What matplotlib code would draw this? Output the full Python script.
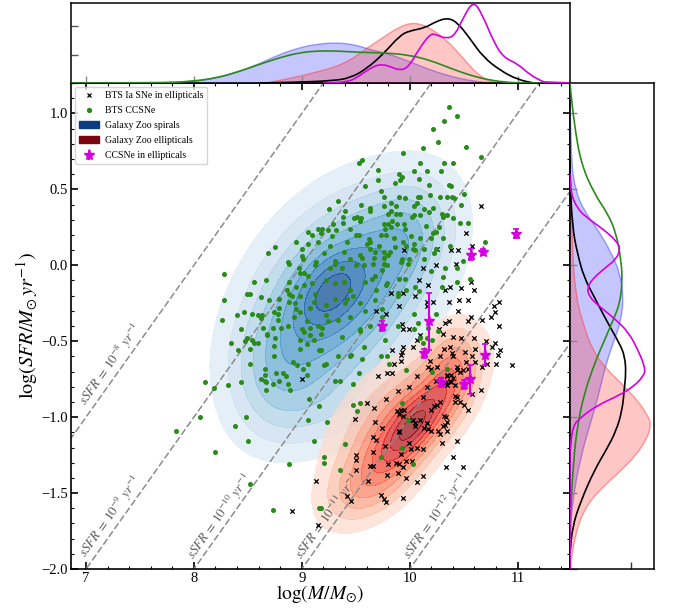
import numpy as np
import matplotlib
matplotlib.use('Agg')
import matplotlib.pyplot as plt
from matplotlib.path import Path
from matplotlib.patches import PathPatch, Patch
from matplotlib.lines import Line2D
from matplotlib.ticker import MultipleLocator

plt.rcParams['font.family'] = ['Liberation Serif', 'DejaVu Serif']
plt.rcParams['mathtext.fontset'] = 'stix'

# BTS CCSNe, (log mass, log SFR)
ccsn_points = np.array([
    (10.36, 1.04), (10.44, 0.98), (10.32, 0.95), (10.22, 0.90), (10.26, 0.81), (10.52, 0.78), (10.12, 0.77),
    (9.94, 0.74), (10.66, 0.71), (9.56, 0.69), (9.53, 0.67), (10.10, 0.67), (10.32, 0.67), (10.40, 0.67),
    (9.71, 0.63), (10.04, 0.62), (10.16, 0.62), (10.29, 0.62), (9.90, 0.60), (9.93, 0.58), (9.91, 0.56),
    (9.71, 0.56), (10.09, 0.57), (9.86, 0.54), (10.18, 0.53), (10.36, 0.53), (10.38, 0.52), (9.59, 0.52),
    (9.73, 0.49), (10.50, 0.47), (10.39, 0.45), (10.41, 0.44), (9.76, 0.45), (9.90, 0.45), (9.96, 0.44),
    (10.08, 0.45), (10.10, 0.45), (10.19, 0.46), (10.28, 0.45), (10.35, 0.45), (9.34, 0.42), (9.25, 0.37),
    (9.55, 0.40), (9.76, 0.39), (9.83, 0.41), (10.07, 0.41), (10.04, 0.39), (10.48, 0.40), (9.40, 0.36),
    (9.63, 0.38), (9.63, 0.36), (9.87, 0.39), (9.83, 0.36), (10.13, 0.37), (10.22, 0.38), (10.18, 0.35),
    (9.38, 0.32), (9.80, 0.34), (9.87, 0.34), (9.91, 0.34), (10.30, 0.34), (10.35, 0.33), (10.31, 0.32),
    (10.40, 0.31), (10.04, 0.33), (10.10, 0.33), (10.02, 0.32), (9.48, 0.31), (9.51, 0.32), (9.55, 0.31),
    (9.54, 0.29), (9.38, 0.28), (9.29, 0.27), (9.84, 0.29), (9.76, 0.27), (9.80, 0.27), (9.88, 0.27),
    (9.95, 0.27), (9.96, 0.24), (10.15, 0.26), (10.27, 0.25), (10.47, 0.28), (10.54, 0.28), (9.45, 0.24),
    (9.19, 0.24), (9.24, 0.23), (9.18, 0.21), (9.32, 0.23), (9.28, 0.19), (9.77, 0.24), (9.83, 0.25),
    (10.24, 0.22), (10.22, 0.21), (9.50, 0.20), (9.53, 0.20), (9.73, 0.20), (9.78, 0.20), (9.85, 0.18),
    (10.01, 0.19), (10.10, 0.18), (10.20, 0.18), (10.31, 0.18), (10.70, 0.15), (10.37, 0.13), (9.62, 0.17),
    (9.63, 0.15), (9.60, 0.14), (9.42, 0.15), (9.26, 0.13), (9.72, 0.13), (9.94, 0.15), (9.86, 0.12),
    (9.97, 0.13), (10.04, 0.14), (10.03, 0.11), (9.63, 0.11), (10.13, 0.11), (10.05, 0.10), (10.24, 0.11),
    (10.23, 0.08), (9.21, 0.08), (9.39, 0.09), (9.68, 0.09), (9.76, 0.09), (9.82, 0.09), (9.54, 0.07),
    (9.56, 0.05), (9.67, 0.05), (9.76, 0.05), (9.80, 0.07), (9.99, 0.04), (10.13, 0.04), (9.93, 0.04),
    (9.92, 0.02), (9.31, 0.03), (9.31, 0.01), (9.45, 0.04), (10.49, 0.03), (9.50, 0.00), (9.66, 0.01),
    (9.76, 0.01), (9.98, 0.01), (9.26, -0.02), (9.37, -0.02), (9.58, 0.00), (9.79, 0.00), (10.33, -0.02),
    (10.44, -0.02), (9.74, -0.03), (10.20, -0.04), (9.68, -0.07), (9.65, -0.09), (9.90, -0.09), (9.96, -0.09),
    (10.44, -0.11), (10.56, -0.09), (10.31, -0.08), (9.22, -0.10), (9.31, -0.12), (9.39, -0.11), (9.79, -0.12),
    (9.59, -0.11), (9.78, -0.13), (9.69, -0.16), (10.05, -0.14), (10.30, -0.14), (10.09, -0.17), (9.97, -0.16),
    (9.89, -0.18), (9.45, -0.16), (9.47, -0.20), (9.89, -0.20), (9.68, -0.23), (9.54, -0.25), (9.42, -0.22),
    (9.40, -0.25), (9.31, -0.22), (9.22, -0.26), (9.59, -0.30), (9.74, -0.29), (10.04, -0.32), (10.24, -0.32),
    (9.45, -0.34), (9.34, -0.36), (9.22, -0.33), (9.24, -0.37), (9.19, -0.41), (9.54, -0.42), (9.63, -0.40),
    (9.74, -0.34), (9.89, -0.40), (10.08, -0.38),
    (9.06, 0.22), (9.09, 0.20), (9.15, 0.24), (8.95, 0.15), (9.06, 0.14), (9.00, 0.11), (9.15, 0.15),
    (8.75, 0.12), (8.69, 0.08), (9.00, 0.06), (9.01, 0.04), (9.13, 0.02), (8.87, 0.02), (8.88, 0.01),
    (9.12, 0.00), (8.97, -0.02), (8.98, -0.05), (9.02, -0.05), (9.06, -0.07), (8.28, -0.06), (8.56, -0.11),
    (8.67, -0.10), (8.88, -0.11), (9.09, -0.12), (9.02, -0.13), (8.95, -0.14), (8.86, -0.16), (8.88, -0.19),
    (8.49, -0.19), (8.52, -0.19), (8.62, -0.21), (8.79, -0.22), (8.91, -0.20), (8.98, -0.20), (9.11, -0.24),
    (8.28, -0.23), (8.70, -0.23), (8.88, -0.24), (9.08, -0.28), (8.94, -0.25), (8.79, -0.28), (8.74, -0.31),
    (8.46, -0.31), (8.54, -0.32), (8.40, -0.33), (8.59, -0.33), (8.63, -0.33), (8.62, -0.35), (8.95, -0.29),
    (8.98, -0.31), (8.78, -0.32), (8.93, -0.34), (9.05, -0.37), (8.26, -0.36), (8.78, -0.36), (8.44, -0.42),
    (8.64, -0.41), (8.73, -0.41), (8.81, -0.41), (8.87, -0.40), (9.00, -0.42), (9.08, -0.41), (9.15, -0.40),
    (9.12, -0.19),
    (8.49, -0.48), (8.47, -0.50), (8.34, -0.51), (8.54, -0.49), (8.56, -0.51), (8.59, -0.51), (8.68, -0.45),
    (8.68, -0.46), (8.75, -0.48), (8.74, -0.53), (8.98, -0.49), (9.02, -0.44), (9.08, -0.46), (9.11, -0.49),
    (9.05, -0.52), (8.98, -0.55), (9.16, -0.56), (8.41, -0.56), (8.52, -0.55), (8.74, -0.60), (8.52, -0.65),
    (8.92, -0.64), (8.96, -0.66), (9.06, -0.65), (9.01, -0.68), (9.05, -0.72), (8.66, -0.68), (8.76, -0.71),
    (8.83, -0.71), (8.85, -0.73), (8.66, -0.72), (8.62, -0.75), (8.66, -0.76), (8.67, -0.77), (8.73, -0.78),
    (8.79, -0.76), (8.87, -0.78), (8.89, -0.82), (8.67, -0.82), (8.10, -0.77), (8.19, -0.81), (8.32, -0.79),
    (8.44, -0.77), (9.07, -0.88), (9.16, -0.93), (8.06, -1.00), (8.48, -1.00), (8.38, -1.06), (9.06, -1.02),
    (7.83, -1.09), (8.50, -1.16), (9.11, -1.16), (8.20, -1.23), (8.88, -1.31), (8.52, -1.44), (8.73, -1.61),
    (9.16, -1.60),
    (9.18, -0.45), (9.37, -0.47), (9.54, -0.43), (10.04, -0.42), (10.26, -0.43), (10.17, -0.41), (10.16, -0.48),
    (10.10, -0.48), (10.12, -0.51), (10.21, -0.49), (9.18, -0.56), (9.58, -0.54), (9.77, -0.49), (9.34, -0.60),
    (9.45, -0.60), (9.46, -0.59), (9.56, -0.62), (9.73, -0.60), (9.79, -0.60), (9.81, -0.65), (9.22, -0.65),
    (9.21, -0.66), (9.97, -0.69), (9.53, -0.71), (10.35, -0.68), (10.21, -0.70), (9.31, -0.76), (9.35, -0.76),
    (9.47, -0.78), (9.47, -0.92), (9.54, -0.91), (9.51, -0.96), (9.93, -0.91), (9.23, -1.03), (9.98, -1.02),
    (9.40, -1.18), (9.93, -1.20), (9.73, -1.26), (9.21, -1.26), (9.21, -1.30), (10.03, -1.31), (9.35, -1.35),
    (9.18, -1.60),
])

# BTS Ia SNe in ellipticals, (log mass, log SFR)
ia_points = np.array([
    (10.66, 0.39), (10.52, 0.21), (10.58, 0.13), (10.25, 0.11), (10.38, 0.10), (10.45, 0.10), (9.95, 0.10),
    (10.24, 0.00), (10.43, 0.01), (10.12, -0.02), (10.09, -0.10), (10.17, -0.13), (10.57, -0.11), (10.37, -0.14),
    (10.33, -0.16), (10.48, -0.15), (10.60, -0.16), (9.83, -0.18), (9.94, -0.18), (10.05, -0.20), (10.16, -0.24),
    (10.22, -0.24), (10.46, -0.23), (10.54, -0.23), (10.36, -0.24), (9.90, -0.27), (10.16, -0.27), (9.69, -0.30),
    (9.78, -0.32), (10.45, -0.30), (10.83, -0.24), (10.78, -0.27), (10.79, -0.31), (10.75, -0.34), (10.57, -0.34),
    (10.67, -0.36), (10.54, -0.37), (10.36, -0.37), (10.33, -0.38), (9.93, -0.39), (10.83, -0.40), (10.27, -0.42),
    (9.99, -0.42), (9.94, -0.42), (9.00, -0.75), (9.13, -1.42), (8.91, -1.62), (9.15, -1.71),
    (10.10, -0.46), (10.07, -0.49), (10.31, -0.45), (10.40, -0.47), (10.48, -0.48), (10.60, -0.48), (10.71, -0.50),
    (10.79, -0.51), (9.84, -0.56), (9.94, -0.54), (10.03, -0.54), (9.93, -0.57), (9.92, -0.59), (10.32, -0.55),
    (10.37, -0.54), (10.51, -0.57), (10.61, -0.55), (10.76, -0.54), (10.84, -0.56), (10.82, -0.59), (10.39, -0.58),
    (10.40, -0.60), (10.28, -0.60), (10.58, -0.60), (9.92, -0.63), (9.85, -0.65), (10.19, -0.63), (10.52, -0.64),
    (10.61, -0.64), (10.72, -0.65), (10.80, -0.65), (10.95, -0.66), (10.17, -0.67), (10.20, -0.68), (10.25, -0.67),
    (10.44, -0.67), (10.67, -0.67), (10.49, -0.69), (10.44, -0.69), (10.47, -0.70), (10.54, -0.68), (9.79, -0.71),
    (9.84, -0.71), (9.71, -0.73), (10.07, -0.73), (10.35, -0.72), (10.38, -0.72), (10.35, -0.73), (10.29, -0.75),
    (10.40, -0.74), (10.37, -0.76), (10.24, -0.76), (10.34, -0.77), (10.38, -0.77), (10.42, -0.79), (10.35, -0.79),
    (9.99, -0.80), (10.16, -0.80), (9.89, -0.83), (10.66, -0.82), (10.58, -0.85), (10.42, -0.86), (10.44, -0.87),
    (10.12, -0.87), (9.78, -0.88), (10.28, -0.90), (10.25, -0.92), (10.42, -0.90), (10.47, -0.90), (10.50, -0.92),
    (9.60, -0.91), (9.67, -0.94), (10.23, -0.93), (10.54, -0.95), (9.88, -0.96), (9.92, -0.95), (9.95, -0.95),
    (10.20, -0.95), (9.90, -0.98), (9.94, -0.99), (10.32, -0.99), (10.34, -1.00), (9.49, -1.01), (9.68, -1.03),
    (9.99, -1.02), (10.10, -1.02), (10.03, -1.02), (10.16, -1.04), (10.35, -1.03), (10.05, -1.04), (10.05, -1.06),
    (10.33, -1.05), (9.74, -1.07), (10.13, -1.07), (10.17, -1.08), (10.31, -1.06), (10.20, -1.09), (10.35, -1.09),
    (9.90, -1.09), (9.90, -1.10), (10.26, -1.09), (10.28, -1.11), (9.66, -1.13), (9.69, -1.15), (9.99, -1.17),
    (10.44, -1.16), (10.30, -1.17), (9.77, -1.19), (10.07, -1.20), (10.01, -1.21), (10.12, -1.21), (9.92, -1.24),
    (9.66, -1.23), (9.50, -1.25), (9.50, -1.28), (10.40, -1.26), (9.80, -1.31), (9.87, -1.30), (9.90, -1.31),
    (9.94, -1.33), (9.97, -1.29), (10.02, -1.29), (9.63, -1.32), (9.66, -1.32), (10.34, -1.33), (10.49, -1.33),
    (9.50, -1.35), (9.79, -1.38), (9.89, -1.37), (9.97, -1.40), (10.12, -1.39), (9.61, -1.42), (10.07, -1.43),
    (9.73, -1.51), (9.76, -1.54), (9.78, -1.56), (9.94, -1.53), (9.42, -1.52), (9.46, -1.55),
])

# CCSNe in ellipticals
cc_ell_mass = [10.985, 10.57, 10.68, 10.18, 9.74, 10.136, 10.29, 10.70, 10.56, 10.507]
cc_ell_sfr = [0.208, 0.07, 0.085, -0.37, -0.40, -0.58, -0.77, -0.588, -0.75, -0.785]
cc_ell_err = [0.03, 0.035, 0.02, 0.19, 0.03, 0.03, 0.03, 0.07, 0.095, 0.03]

# Galaxy Zoo density blobs: centre x, centre y, sigma x, sigma y, correlation, weight
spiral_blobs = [
    (9.26, -0.17, 0.22, 0.17, 0.45, 0.40),
    (9.35, -0.20, 0.50, 0.40, 0.38, 0.80),
    (9.98, 0.20, 0.27, 0.24, 0.25, 0.28),
    (8.78, -0.72, 0.28, 0.26, 0.10, 0.23),
    (9.30, -0.95, 0.45, 0.20, 0.30, 0.13),
]
elliptical_blobs = [
    (10.04, -1.05, 0.17, 0.14, 0.72, 0.40),
    (10.00, -1.08, 0.33, 0.27, 0.75, 0.60),
    (9.85, -1.00, 0.40, 0.28, 0.50, 0.22),
    (10.38, -0.68, 0.15, 0.18, 0.20, 0.30),
    (9.60, -1.47, 0.27, 0.16, 0.35, 0.17),
]
level_fractions = [0.05, 0.12, 0.20, 0.29, 0.39, 0.50, 0.62, 0.76, 0.90, 1.01]

ssfr_exps = [-8, -9, -10, -11, -12]
ssfr_label_x = [7.0, 7.0, 8.0, 9.0, 10.0]
ssfr_label_y = [-0.93, -1.93, -1.94, -1.94, -1.94]

# marginals over log mass (x, density)
top_spirals = [(6.85, 0), (7.7, 0), (7.99, 0.02), (8.21, 0.09), (8.40, 0.19), (8.61, 0.34), (8.80, 0.51), (9.01, 0.64),
               (9.17, 0.69), (9.32, 0.71), (9.48, 0.68), (9.63, 0.59), (9.79, 0.52), (9.97, 0.40), (10.16, 0.25),
               (10.37, 0.12), (10.59, 0.03), (10.78, 0), (11.5, 0)]
top_ellipticals = [(8.67, 0), (8.92, 0.09), (9.11, 0.18), (9.29, 0.27), (9.45, 0.40), (9.60, 0.61), (9.76, 0.81), (9.91, 1.0),
                   (10.05, 1.07), (10.19, 0.97), (10.34, 0.76), (10.50, 0.43), (10.62, 0.165), (10.74, 0.03), (10.84, 0)]
top_ccsn = [(6.85, 0), (7.69, 0), (7.99, 0.03), (8.21, 0.09), (8.40, 0.19), (8.61, 0.33), (8.80, 0.45), (8.98, 0.535),
            (9.14, 0.565), (9.32, 0.565), (9.54, 0.54), (9.79, 0.53), (10.0, 0.49), (10.19, 0.40), (10.37, 0.265),
            (10.56, 0.135), (10.74, 0.05), (10.93, 0.006), (11.08, 0), (11.5, 0)]
top_ia = [(8.6, 0), (8.92, 0.01), (9.29, 0.04), (9.45, 0.09), (9.60, 0.25), (9.76, 0.52), (9.91, 0.84), (10.0, 0.92),
          (10.14, 0.97), (10.25, 1.09), (10.36, 1.15), (10.45, 1.05), (10.56, 0.78), (10.68, 0.46), (10.84, 0.22),
          (11.0, 0.06), (11.15, 0), (11.5, 0)]
top_cc_ell = [(9.2, 0), (9.42, 0), (9.54, 0.135), (9.66, 0.29), (9.74, 0.33), (9.82, 0.29), (9.91, 0.22), (9.99, 0.28),
              (10.08, 0.58), (10.19, 0.87), (10.25, 0.85), (10.34, 0.78), (10.42, 0.84), (10.50, 1.165), (10.59, 1.45),
              (10.67, 1.22), (10.78, 0.72), (10.87, 0.45), (11.0, 0.34), (11.12, 0.135), (11.24, 0.02), (11.5, 0)]

# marginals over log SFR (log SFR, density)
right_spirals = [(1.2, 0), (0.71, 0.01), (0.49, 0.09), (0.36, 0.23), (0.24, 0.45), (0.08, 0.68), (-0.05, 0.82), (-0.21, 0.88),
                 (-0.36, 0.84), (-0.49, 0.73), (-0.65, 0.59), (-0.87, 0.46), (-1.06, 0.32), (-1.26, 0.18), (-1.48, 0.07),
                 (-1.7, 0.01), (-2.0, 0)]
right_ellipticals = [(0.6, 0), (0.49, 0.01), (0.12, 0.04), (-0.19, 0.09), (-0.38, 0.21), (-0.56, 0.37), (-0.68, 0.59), (-0.80, 0.90),
                     (-0.91, 1.15), (-1.0, 1.29), (-1.05, 1.33), (-1.13, 1.28), (-1.25, 1.09), (-1.37, 0.79), (-1.49, 0.46),
                     (-1.61, 0.23), (-1.77, 0.09), (-1.94, 0.02), (-2.0, 0)]
right_ccsn = [(1.2, 0), (1.15, 0.01), (0.93, 0.07), (0.67, 0.18), (0.47, 0.40), (0.34, 0.62), (0.21, 0.76), (0.03, 0.84),
              (-0.10, 0.86), (-0.25, 0.82), (-0.36, 0.71), (-0.49, 0.57), (-0.65, 0.40), (-0.85, 0.23), (-1.06, 0.12),
              (-1.3, 0.055), (-1.63, 0.01), (-2.0, 0)]
right_ia = [(0.7, 0), (0.56, 0), (0.25, 0.04), (0.08, 0.12), (-0.08, 0.23), (-0.21, 0.40), (-0.38, 0.62), (-0.52, 0.82),
            (-0.60, 0.90), (-0.71, 0.92), (-0.82, 0.89), (-0.95, 0.86), (-1.09, 0.76), (-1.22, 0.59), (-1.35, 0.40),
            (-1.55, 0.18), (-1.72, 0.04), (-1.9, 0), (-2.0, 0)]
right_cc_ell = [(0.6, 0), (0.49, 0), (0.37, 0.12), (0.30, 0.32), (0.23, 0.57), (0.16, 0.76), (0.11, 0.83), (0.04, 0.76),
                (-0.02, 0.57), (-0.09, 0.37), (-0.15, 0.28), (-0.21, 0.32), (-0.27, 0.48), (-0.35, 0.73), (-0.44, 0.96),
                (-0.56, 1.12), (-0.68, 1.24), (-0.73, 1.21), (-0.80, 1.04), (-0.86, 0.79), (-0.92, 0.46), (-1.0, 0.18),
                (-1.06, 0.04), (-1.24, 0), (-2.0, 0)]

BLUE = (0.2, 0.2, 1.0)
RED = (1.0, 0.2, 0.2)
MAGENTA = '#d400e0'
GREEN = '#2a8a1a'


def blob_density(blobs, xx, yy):
    z = np.zeros_like(xx)
    for mx, my, sx, sy, rho, w in blobs:
        dx = (xx - mx) / sx
        dy = (yy - my) / sy
        z += w * np.exp(-(dx**2 - 2 * rho * dx * dy + dy**2) / (2 * (1 - rho**2)))
    return z


def curve_path(pts, close=False):
    # read points used as quadratic control points so the curve stays smooth
    pts = np.asarray(pts, dtype=float)
    verts = [pts[0]]
    codes = [Path.MOVETO]
    for i in range(1, len(pts) - 1):
        mid = pts[i] if i == len(pts) - 2 else (pts[i] + pts[i + 1]) / 2
        verts += [pts[i], mid]
        codes += [Path.CURVE3, Path.CURVE3]
    verts.append(pts[-1])
    codes.append(Path.LINETO)
    if close:
        verts.append(pts[0])
        codes.append(Path.LINETO)
    return Path(verts, codes)


def draw_filled(ax, pts, color, swap=False):
    pts = np.asarray(pts, dtype=float)
    if swap:
        pts = pts[:, ::-1]
    ax.add_patch(PathPatch(curve_path(pts, close=True), facecolor=color + (0.28,), edgecolor=color + (0.45,), lw=1.0))


def draw_line(ax, pts, color, swap=False):
    pts = np.asarray(pts, dtype=float)
    if swap:
        pts = pts[:, ::-1]
    ax.add_patch(PathPatch(curve_path(pts), fill=False, edgecolor=color, lw=1.2, zorder=3))


W, H = 673.0, 610.0
fig = plt.figure(figsize=(6.73, 6.10), dpi=100)
ax = fig.add_axes([70.5 / W, 41 / H, 499.5 / W, 486 / H])
ax_top = fig.add_axes([70.5 / W, 527 / H, 499.5 / W, 80 / H])
ax_right = fig.add_axes([570 / W, 41 / H, 84 / W, 486 / H])

# Galaxy Zoo contours
gx, gy = np.meshgrid(np.linspace(6.85, 11.5, 400), np.linspace(-2, 1.2, 400))
for blobs, cmap in [(spiral_blobs, 'Blues'), (elliptical_blobs, 'Reds')]:
    z = blob_density(blobs, gx, gy)
    z = z / z.max()
    colors = plt.get_cmap(cmap)(np.linspace(0.14, 0.9, 9))
    ax.contourf(gx, gy, z, levels=level_fractions, colors=colors, alpha=0.72, zorder=1)

# constant sSFR lines
line_x = np.array([6.85, 11.5])
for exp, lx, ly in zip(ssfr_exps, ssfr_label_x, ssfr_label_y):
    ax.plot(line_x, line_x + exp, color='#8c8c8c', lw=1.1, dashes=(4.5, 1.8), zorder=2)
    ax.text(lx, ly, r'$sSFR\,=\,10^{%d}\ yr^{-1}$' % exp, color='#5c5c5c', fontsize=9.5, rotation=54.6,
            rotation_mode='anchor', ha='left', va='baseline', zorder=2)

ax.scatter(ia_points[:, 0], ia_points[:, 1], marker='x', s=10, c='k', linewidths=0.9, zorder=4)
ax.scatter(ccsn_points[:, 0], ccsn_points[:, 1], marker='o', s=13, c=GREEN, linewidths=0, zorder=4)
ax.errorbar(cc_ell_mass, cc_ell_sfr, yerr=cc_ell_err, fmt='*', color=MAGENTA, ms=8, elinewidth=1.5, capsize=2, capthick=1.2, zorder=5)

ax.set_xlim(6.856, 11.486)
ax.set_ylim(-2, 1.2)
ax.xaxis.set_major_locator(MultipleLocator(1))
ax.xaxis.set_minor_locator(MultipleLocator(0.2))
ax.yaxis.set_major_locator(MultipleLocator(0.5))
ax.yaxis.set_minor_locator(MultipleLocator(0.1))
ax.tick_params(which='major', direction='in', top=True, right=True, length=5, width=1.2, labelsize=10.5, pad=2)
ax.tick_params(which='minor', direction='in', top=True, right=True, length=2.5, width=0.8)
ax.set_xlabel(r'$\log(M/M_{\odot})$', fontsize=14, labelpad=-1)
ax.set_ylabel(r'$\log(SFR/M_{\odot}\,yr^{-1})$', fontsize=14.5, labelpad=1)
for sp in ax.spines.values():
    sp.set_linewidth(1.2)

handles = [
    Line2D([], [], marker='x', ls='', color='k', ms=3.5, mew=0.9),
    Line2D([], [], marker='o', ls='', color=GREEN, ms=3.8, mew=0),
    Patch(color='#0b3c80'),
    Patch(color='#7a0510'),
    ax.errorbar([], [], yerr=[], fmt='*', color=MAGENTA, ms=8, elinewidth=1.5, capsize=2),
]
labels = ['BTS Ia SNe in ellipticals', 'BTS CCSNe', 'Galaxy Zoo spirals', 'Galaxy Zoo ellipticals', 'CCSNe in ellipticals']
ax.legend(handles, labels, loc='upper left', fontsize=7, borderaxespad=0.42, labelspacing=0.62, handlelength=2.05,
          handletextpad=0.65, borderpad=0.42)

# top marginal
draw_filled(ax_top, top_spirals, BLUE)
draw_filled(ax_top, top_ellipticals, RED)
draw_line(ax_top, top_ia, 'k')
draw_line(ax_top, top_ccsn, GREEN)
draw_line(ax_top, top_cc_ell, MAGENTA)
ax_top.set_xlim(ax.get_xlim())
ax_top.set_ylim(0, 1.41)
ax_top.set_xticks([7, 8, 9, 10, 11])
ax_top.set_yticks([0, 0.5, 1.0])
ax_top.tick_params(axis='x', direction='in', length=5, width=1, color='#888888', labelbottom=False)
ax_top.tick_params(axis='y', direction='in', length=5, width=1, color='#555555', labelleft=False)

# right marginal
draw_filled(ax_right, right_spirals, BLUE, swap=True)
draw_filled(ax_right, right_ellipticals, RED, swap=True)
draw_line(ax_right, right_ia, 'k', swap=True)
draw_line(ax_right, right_ccsn, GREEN, swap=True)
draw_line(ax_right, right_cc_ell, MAGENTA, swap=True)
ax_right.set_ylim(ax.get_ylim())
ax_right.set_xlim(0, 1.38)
ax_right.set_xticks([0, 1.0])
ax_right.set_yticks([-2, -1.5, -1, -0.5, 0, 0.5, 1])
ax_right.tick_params(axis='y', direction='in', length=5, width=1, color='#888888', labelleft=False)
ax_right.tick_params(axis='x', direction='in', length=5, width=1, color='#333333', labelbottom=False)

for a in (ax_top, ax_right):
    for sp in a.spines.values():
        sp.set_linewidth(1.1)

fig.savefig('out.png', dpi=100)
